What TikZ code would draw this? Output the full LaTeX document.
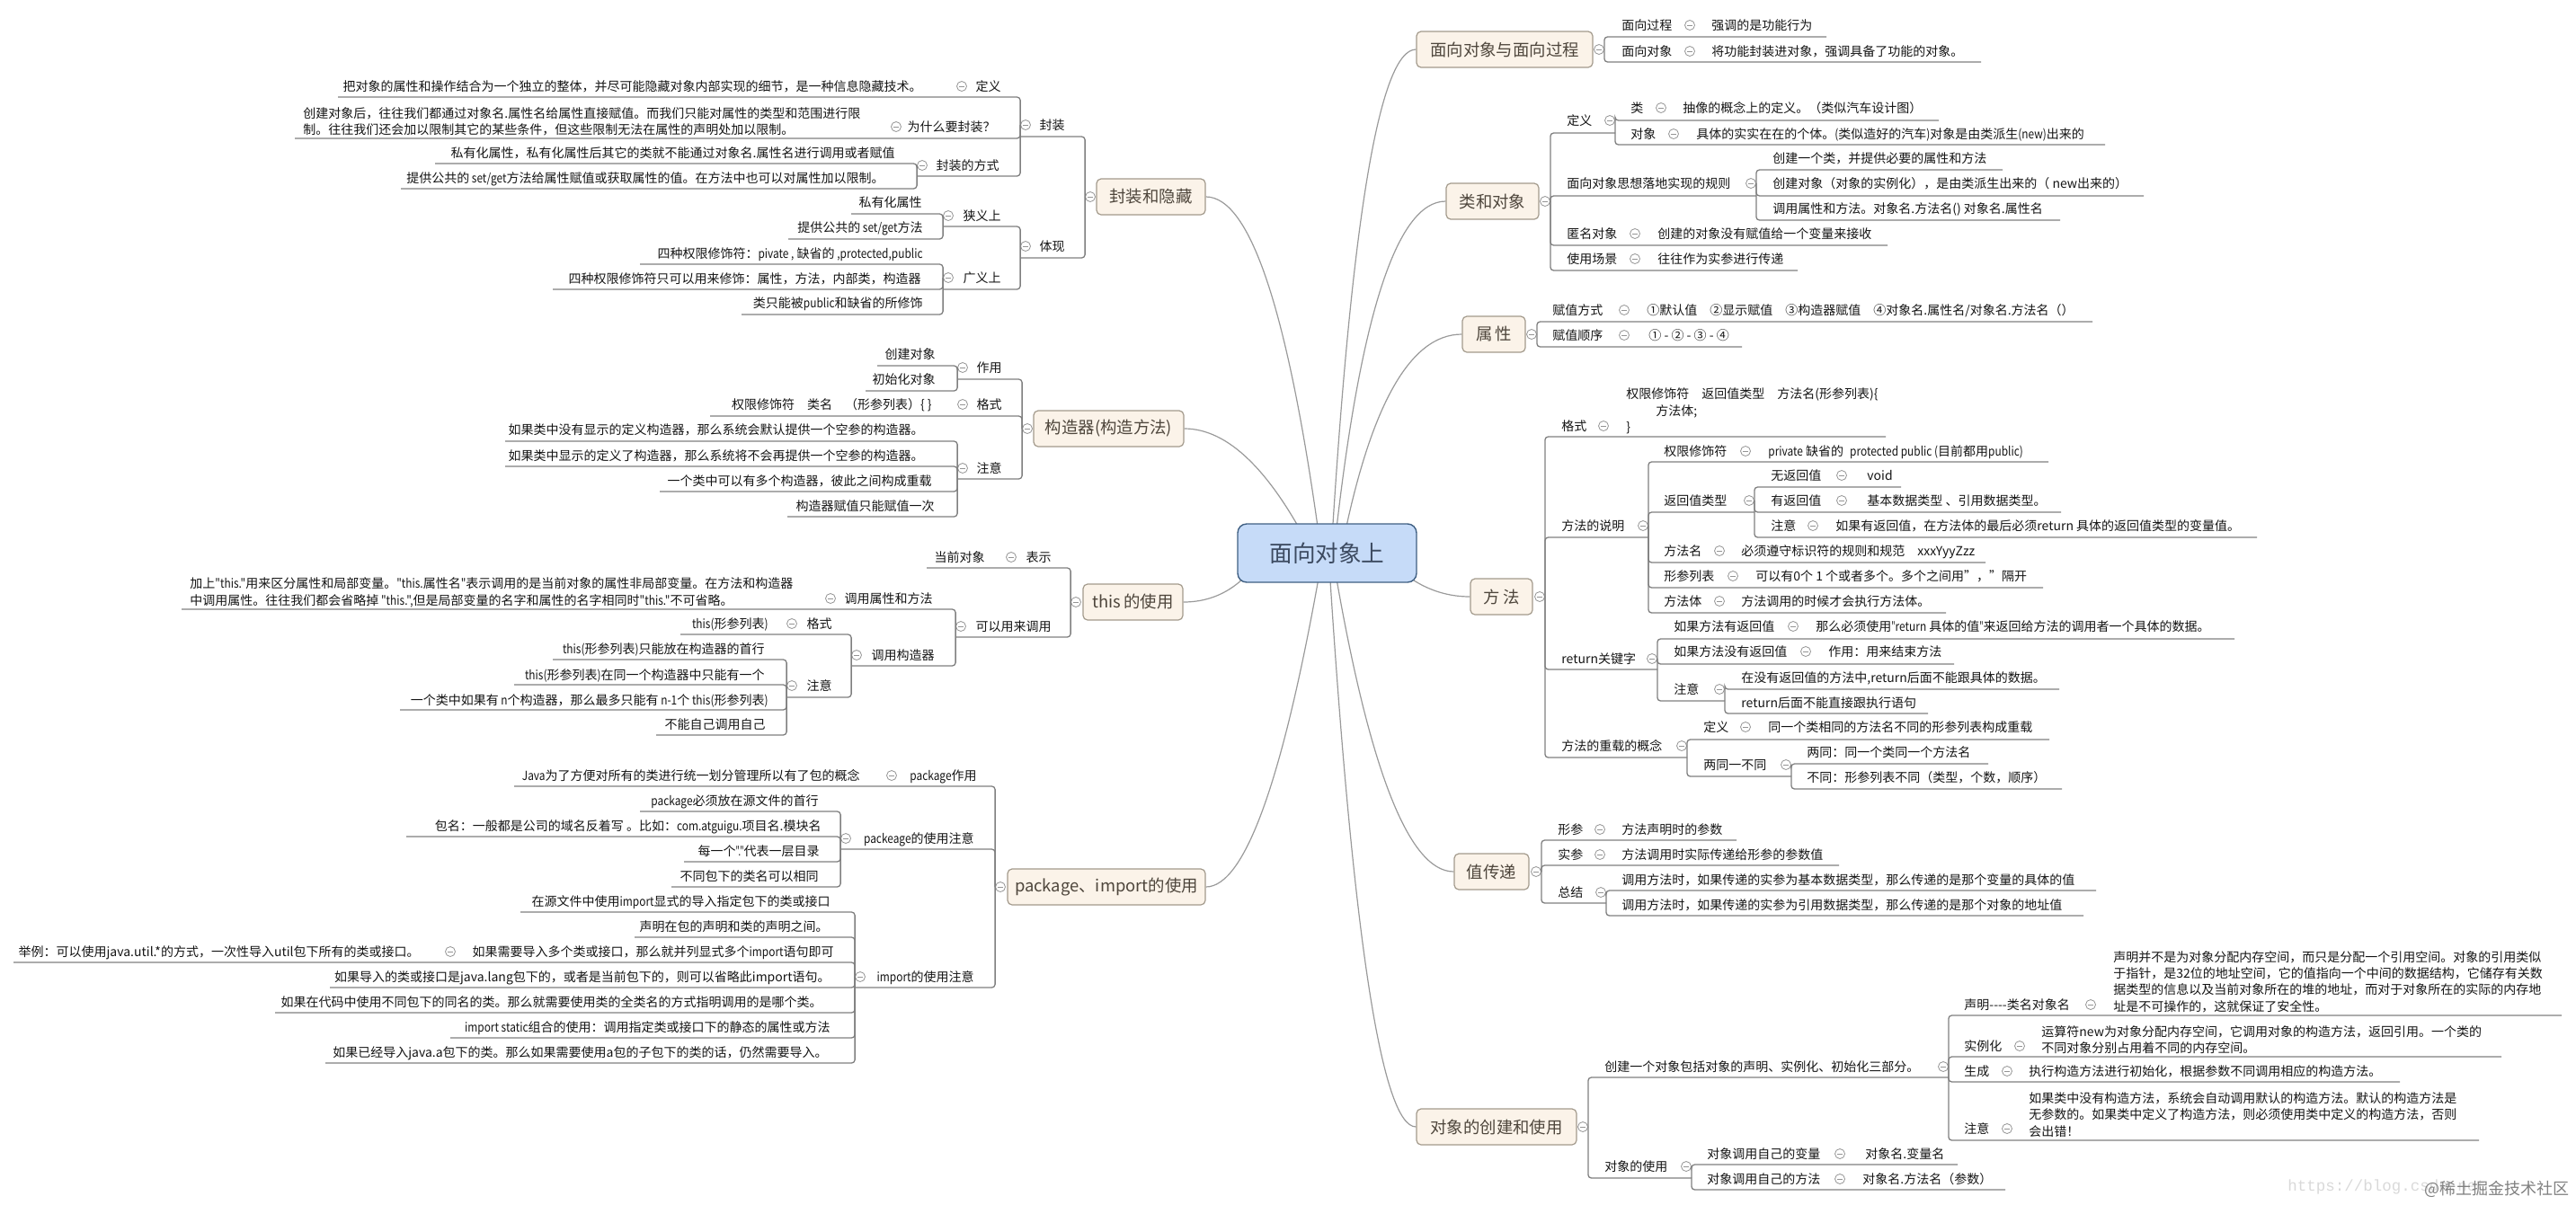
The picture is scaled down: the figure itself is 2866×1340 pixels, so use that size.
\documentclass[tikz,border=0pt]{standalone}
\usepackage{fontspec}
\setmainfont{Noto Sans CJK SC}
\newfontfamily\wmfont{Liberation Mono}
\newfontface\narrowA[FakeStretch=0.85]{Noto Sans CJK SC}
\newfontface\narrowB[FakeStretch=0.65]{Noto Sans CJK SC}
\newcommand\La[1]{{\narrowA #1}}
\newcommand\Lb[1]{{\narrowB #1}}
\usetikzlibrary{calc,backgrounds}
\definecolor{linkc}{HTML}{7F7F7F}
\definecolor{curvec}{HTML}{9A9A9A}
\definecolor{collc}{HTML}{949494}
\definecolor{txtc}{HTML}{141414}
\definecolor{topicfill}{HTML}{FBF3E9}
\definecolor{topicdraw}{HTML}{A39A8C}
\definecolor{topictxt}{HTML}{4E463C}
\definecolor{rootfill}{HTML}{C6DBF8}
\definecolor{rootdraw}{HTML}{3F5F82}
\definecolor{roottxt}{HTML}{3C4A60}
\tikzset{
 lbl/.style={inner sep=0pt,text=txtc,font=\fontsize{7}{9.15}\selectfont,align=left,yshift=-1pt},
 coll/.style={circle,draw=collc,fill=white,line width=.4pt,minimum size=5.5pt,inner sep=0pt,
   path picture={\draw[collc,line width=.4pt]([xshift=-1.4pt]path picture bounding box.center)--([xshift=1.4pt]path picture bounding box.center);}},
 link/.style={draw=linkc,line width=.65pt,rounded corners=1.8pt},
 curvelink/.style={draw=curvec,line width=.6pt},
 topic/.style={draw=topicdraw,fill=topicfill,line width=.6pt,rounded corners=2.5pt,minimum height=20pt,inner sep=0pt,
   text=topictxt,font=\fontsize{9.2}{11}\selectfont},
 rootbox/.style={draw=rootdraw,fill=rootfill,line width=.7pt,rounded corners=5pt,minimum width=99.5pt,minimum height=32.5pt,inner sep=0pt,
   text=roottxt,font=\fontsize{12.8}{15}\selectfont},
 wmurl/.style={inner sep=0pt,text=black!15,font=\wmfont\fontsize{8.75}{10}\selectfont},
 wmsite/.style={inner sep=0pt,text=black!50,font=\fontsize{9}{10}\selectfont},
}
\newcommand\LT[4]{\node[lbl,anchor=east] (#1) at (#2,#3) {\strut #4};}
\newcommand\RT[4]{\node[lbl,anchor=west] (#1) at (#2,#3) {\strut #4};}
\newcommand\ML[4]{\node[lbl,anchor=west] (#1) at (#2,#3) {#4};}
\newcommand\CC[3]{\node[coll] (#1) at (#2,#3) {};}
\newcommand\LU[4]{\coordinate (#1) at (#3,#4);\draw[link] (#2.west) |- (#1);}
\newcommand\RU[4]{\coordinate (#1) at (#3,#4);\draw[link] (#2.east) |- (#1);}
\newcommand\crv[4]{\begin{scope}[on background layer]
 \coordinate (qq) at (#2,0 |- #1);\coordinate (ss) at (#3,#4);
 \draw[curvelink] (ss) .. controls ($(ss)!0.6667!(qq)$) and ($(#1)!0.6667!(qq)$) .. (#1);
 \end{scope}}
\begin{document}
\begin{tikzpicture}[x=0.5pt,y=-0.5pt]
\useasboundingbox (0,0) rectangle (2866,1340);
\node[rootbox] (root) at (1476.5,615.5) {面向对象上};
% topics
\node[topic,minimum width=60.5pt] (g1) at (1280.5,219) {封装和隐藏};
\node[topic,minimum width=83.5pt] (g2) at (1233.5,477) {构造器(构造方法)};
\node[topic,minimum width=55.5pt] (g3) at (1260.5,670) {this\,的使用};
\node[topic,minimum width=110pt] (g4) at (1231,987) {package、import的使用};
\node[topic,minimum width=98pt] (r1) at (1674,55) {面向对象与面向过程};
\node[topic,minimum width=51.5pt] (r2) at (1660.5,224) {类和对象};
\node[topic,minimum width=35pt] (r3) at (1662,372) {属\,性};
\node[topic,minimum width=34.5pt] (r4) at (1670.5,664) {方\,法};
\node[topic,minimum width=41.5pt] (r5) at (1659.5,970) {值传递};
\node[topic,minimum width=89pt] (r6) at (1665,1254) {对象的创建和使用};
% curves
\crv{g1.east}{1417}{1470}{615}
\crv{g2.east}{1390}{1460}{615}
\crv{g3.east}{1355}{1383}{644}
\crv{g4.east}{1408}{1472}{615}
\crv{r1.west}{1515}{1481}{615}
\crv{r2.west}{1526}{1484}{615}
\crv{r3.west}{1539}{1492}{615}
\crv{r4.west}{1600}{1570}{644}
\crv{r5.west}{1541}{1482}{615}
\crv{r6.west}{1518}{1478}{615}
% ===== g1
\CC{g1c}{1213}{219}
\LU{a}{g1c}{1135}{152}\CC{ac}{1141}{139}\LT{at}{1185}{139}{封装}
\LU{aa}{ac}{376}{108}\CC{aac}{1070}{96}\LT{aat}{1114}{96}{定义}
\LT{aal}{1026}{96}{把对象的属性和操作结合为一个独立的整体，并尽可能隐藏对象内部实现的细节，是一种信息隐藏技术。}
\LU{ab}{ac}{328}{154}\CC{abc}{997}{141}\LT{abt}{1108}{141}{为什么要封装？}
\ML{abl}{337}{133}{创建对象后，往往我们都通过对象名.属性名给属性直接赋值。而我们只能对属性的类型和范围进行限\\制。往往我们还会加以限制其它的某些条件，但这些限制无法在属性的声明处加以限制。}
\LU{ad}{ac}{1020}{196}\CC{adc}{1026}{184}\LT{adt}{1112}{184}{封装的方式}
\LU{ada}{adc}{484}{182}\LT{adat}{996}{170}{私有化属性，私有化属性后其它的类就不能通过对象名.属性名进行调用或者赋值}
\LU{adb}{adc}{446}{210}\LT{adbt}{984}{198}{提供公共的\La{ set/get}方法给属性赋值或获取属性的值。在方法中也可以对属性加以限制。}
\LU{b}{g1c}{1135}{287}\CC{bc}{1141}{274}\LT{bt}{1185}{274}{体现}
\LU{ba}{bc}{1049}{252}\CC{bac}{1055}{240}\LT{bat}{1114}{240}{狭义上}
\LU{baa}{bac}{947}{238}\LT{baat}{1026}{225}{私有化属性}
\LU{bab}{bac}{877}{266}\LT{babt}{1027}{253}{提供公共的\La{ set/get}方法}
\LU{bb}{bc}{1049}{322}\CC{bbc}{1055}{309}\LT{bbt}{1114}{309}{广义上}
\LU{bba}{bbc}{712}{294}\LT{bbat}{1027}{282}{四种权限修饰符：\La{pivate ,} 缺省的\La{ ,protected,public}}
\LU{bbb}{bbc}{615}{322}\LT{bbbt}{1025}{310}{四种权限修饰符只可以用来修饰：属性，方法，内部类，构造器}
\LU{bbd}{bbc}{825}{350}\LT{bbdt}{1027}{337}{类只能被\La{public}和缺省的所修饰}
% ===== g2
\CC{g2c}{1143}{477}
\LU{c}{g2c}{1065}{422}\CC{cc}{1071}{409}\LT{ct}{1115}{409}{作用}
\LU{ca}{cc}{976}{407}\LT{cat}{1041}{394}{创建对象}
\LU{cb}{cc}{963}{435}\LT{cbt}{1041}{422}{初始化对象}
\LU{d}{g2c}{790}{463}\CC{dc}{1071}{450}\LT{dt}{1115}{450}{格式}
\LT{dl}{1037}{450}{权限修饰符\quad 类名\quad （形参列表）\{ \}}
\LU{e}{g2c}{1065}{533}\CC{ec}{1071}{521}\LT{et}{1115}{521}{注意}
\LU{ea}{ec}{562}{491}\LT{eat}{1028}{478}{如果类中没有显示的定义构造器，那么系统会默认提供一个空参的构造器。}
\LU{eb}{ec}{562}{519}\LT{ebt}{1028}{507}{如果类中显示的定义了构造器，那么系统将不会再提供一个空参的构造器。}
\LU{ed}{ec}{734}{547}\LT{edt}{1037}{535}{一个类中可以有多个构造器，彼此之间构成重载}
\LU{ef}{ec}{876}{575}\LT{eft}{1040}{563}{构造器赋值只能赋值一次}
% ===== g3
\CC{g3c}{1197}{670}
\LU{f}{g3c}{1031}{632}\CC{fc}{1125}{620}\LT{ft}{1170}{620}{表示}\LT{fl}{1096}{620}{当前对象}
\LU{h}{g3c}{1063}{709}\CC{hc}{1069}{697}\LT{ht}{1170}{697}{可以用来调用}
\LU{ha}{hc}{202}{678}\CC{hac}{924}{666}\LT{hat}{1038}{666}{调用属性和方法}
\ML{hal}{211}{657.5}{加上\La{"this."}用来区分属性和局部变量。\La{"this.}属性名\La{"}表示调用的是当前对象的属性非局部变量。在方法和构造器\\中调用属性。往往我们都会省略掉\La{ "this.",}但是局部变量的名字和属性的名字相同时\La{"this."}不可省略。}
\LU{hb}{hc}{947}{741}\CC{hbc}{953}{729}\LT{hbt}{1040}{729}{调用构造器}
\LU{hba}{hbc}{757}{706}\CC{hbac}{881}{694}\LT{hbat}{926}{694}{格式}\LT{hbal}{855}{694}{\La{this(}形参列表\La{)}}
\LU{hbb}{hbc}{875}{776}\CC{hbbc}{881}{763}\LT{hbbt}{926}{763}{注意}
\LU{hbba}{hbbc}{615}{734}\LT{hbbat}{851}{722}{\La{this(}形参列表\La{)}只能放在构造器的首行}
\LU{hbbb}{hbbc}{572}{762}\LT{hbbbt}{851}{751}{\La{this(}形参列表\La{)}在同一个构造器中只能有一个}
\LU{hbbd}{hbbc}{445}{790}\LT{hbbdt}{855}{779}{一个类中如果有\La{ n}个构造器，那么最多只能有\La{ n-1}个\La{ this(}形参列表\La{)}}
\LU{hbbe}{hbbc}{730}{818}\LT{hbbet}{852}{806}{不能自己调用自己}
% ===== g4
\CC{g4c}{1113}{987}
\LU{k}{g4c}{572}{875}\CC{kc}{992}{863}\LT{kt}{1087}{863}{\La{package}作用}\LT{kl}{957}{863}{\La{Java}为了方便对所有的类进行统一划分管理所以有了包的概念}
\LU{m}{g4c}{935}{945}\CC{mc}{941}{933}\LT{mt}{1084}{933}{\La{packeage}的使用注意}
\LU{ma}{mc}{712}{903}\LT{mat}{911}{891}{\La{package}必须放在源文件的首行}
\LU{mb}{mc}{452}{931}\LT{mbt}{914}{919}{包名：一般都是公司的域名反着写 。比如：\La{com.atguigu.}项目名.模块名}
\LU{md}{mc}{761}{959}\LT{mdt}{912}{947}{每一个\Lb{"."}代表一层目录}
\LU{me}{mc}{747}{987}\LT{met}{911}{975}{不同包下的类名可以相同}
\LU{n}{g4c}{951}{1099}\CC{nc}{957}{1087}\LT{nt}{1084}{1087}{\La{import}的使用注意}
\LU{na}{nc}{579}{1015}\LT{nat}{924}{1003}{在源文件中使用\La{import}显式的导入指定包下的类或接口}
\LU{nb}{nc}{706}{1043}\LT{nbt}{922}{1031}{声明在包的声明和类的声明之间。}
\LU{nd}{nc}{15}{1071}\LT{ndt}{928}{1059}{如果需要导入多个类或接口，那么就并列显式多个\La{import}语句即可}\CC{ndc}{501}{1059}\LT{ndl}{467}{1059}{举例：可以使用java.util.*的方式，一次性导入util包下所有的类或接口。}
\LU{ne}{nc}{367}{1099}\LT{net}{924}{1087}{如果导入的类或接口是java.lang包下的，或者是当前包下的，则可以省略此import语句。}
\LU{nf}{nc}{306}{1127}\LT{nft}{915}{1115}{如果在代码中使用不同包下的同名的类。那么就需要使用类的全类名的方式指明调用的是哪个类。}
\LU{ng}{nc}{501}{1155}\LT{ngt}{924}{1143}{\La{import static}组合的使用：调用指定类或接口下的静态的属性或方法}
\LU{nh}{nc}{362}{1183}\LT{nht}{921}{1171}{如果已经导入java.a包下的类。那么如果需要使用a包的子包下的类的话，仍然需要导入。}
% ===== r1
\CC{r1c}{1779}{55}
\RU{p}{r1c}{2032}{41}\RT{pt}{1804}{28}{面向过程}\CC{pc}{1880}{28}\RT{pl}{1904}{28}{强调的是功能行为}
\RU{q}{r1c}{2204}{69}\RT{qt}{1804}{57}{面向对象}\CC{qc}{1880}{57}\RT{ql}{1904}{57}{将功能封装进对象，强调具备了功能的对象。}
% ===== r2
\CC{r2c}{1719}{224}
\RU{s}{r2c}{1797}{148}\RT{st}{1743}{134}{定义}\CC{sc}{1791}{134}
\RU{sa}{sc}{2157}{134}\RT{sat}{1814}{120}{类}\CC{sac}{1848}{120}\RT{sal}{1872}{120}{抽像的概念上的定义。（类似汽车设计图）}
\RU{sb}{sc}{2342}{161}\RT{sbt}{1814}{149}{对象}\CC{sbc}{1862}{149}\RT{sbl}{1887}{149}{具体的实实在在的个体。\La{(}类似造好的汽车\La{)}对象是由类派生\La{(new)}出来的}
\RU{u}{r2c}{1954}{218}\RT{ut}{1743}{204}{面向对象思想落地实现的规则}\CC{uc}{1948}{204}
\RU{ua}{uc}{2228}{189}\RT{uat}{1972}{176}{创建一个类，并提供必要的属性和方法}
\RU{ub}{uc}{2385}{218}\RT{ubt}{1972}{204}{创建对象（对象的实例化），是由类派生出来的（ new出来的）}
\RU{ud}{uc}{2292}{245}\RT{udt}{1972}{232}{调用属性和方法。对象名.方法名() 对象名.属性名}
\RU{v}{r2c}{2100}{273}\RT{vt}{1743}{260}{匿名对象}\CC{vc}{1819}{260}\RT{vl}{1844}{260}{创建的对象没有赋值给一个变量来接收}
\RU{w}{r2c}{2000}{301}\RT{wt}{1743}{288}{使用场景}\CC{wc}{1819}{288}\RT{wl}{1844}{288}{往往作为实参进行传递}
% ===== r3
\CC{r3c}{1704}{372}
\RU{ya}{r3c}{2328}{358}\RT{yat}{1727}{345}{赋值方式}\CC{yac}{1807}{345}\RT{yal}{1832}{345}{①默认值\quad ②显示赋值\quad ③构造器赋值\quad ④对象名.属性名/对象名.方法名（）}
\RU{yb}{r3c}{1938}{386}\RT{ybt}{1727}{373}{赋值顺序}\CC{ybc}{1807}{373}\RT{ybl}{1834}{373}{① - ② - ③ - ④}
% ===== r4
\CC{r4c}{1713}{664}
\RU{A}{r4c}{2098}{486}\RT{At}{1737}{474}{格式}\CC{Ac}{1784}{474}
\ML{Al}{1809}{455.5}{权限修饰符\quad 返回值类型\quad 方法名(形参列表)\{\\\hspace*{16.5pt}方法体;\\\}}
\RU{B}{r4c}{1834}{598}\RT{Bt}{1737}{585}{方法的说明}\CC{Bc}{1828}{585}
\RU{Ba}{Bc}{2279}{514}\RT{Bat}{1851}{502}{权限修饰符}\CC{Bac}{1942}{502}\RT{Bal}{1967}{502}{\La{private} 缺省的\enspace\La{protected public (}目前都用\La{public)}}
\RU{Bb}{Bc}{1952}{570}\RT{Bbt}{1851}{557}{返回值类型}\CC{Bbc}{1946}{557}
\RU{Bba}{Bbc}{2115}{542}\RT{Bbat}{1970}{529}{无返回值}\CC{Bbac}{2049}{529}\RT{Bbal}{2077}{529}{void}
\RU{Bbb}{Bbc}{2293}{570}\RT{Bbbt}{1970}{557}{有返回值}\CC{Bbbc}{2049}{557}\RT{Bbbl}{2077}{557}{基本数据类型 、引用数据类型。}
\RU{Bbd}{Bbc}{2511}{598}\RT{Bbdt}{1970}{585}{注意}\CC{Bbdc}{2017}{585}\RT{Bbdl}{2042}{585}{如果有返回值，在方法体的最后必须return 具体的返回值类型的变量值。}
\RU{Bd}{Bc}{2209}{626}\RT{Bdt}{1851}{613}{方法名}\CC{Bdc}{1913}{613}\RT{Bdl}{1937}{613}{必须遵守标识符的规则和规范\quad xxxYyyZzz}
\RU{Be}{Bc}{2273}{654}\RT{Bet}{1851}{641}{形参列表}\CC{Bec}{1928}{641}\RT{Bel}{1953}{641}{可以有0个 1 个或者多个。多个之间用"，"隔开}
\RU{Bf}{Bc}{2165}{682}\RT{Bft}{1851}{669}{方法体}\CC{Bfc}{1913}{669}\RT{Bfl}{1937}{669}{方法调用的时候才会执行方法体。}
\RU{D}{r4c}{1844}{745}\RT{Dt}{1737}{733}{return关键字}\CC{Dc}{1838}{733}
\RU{Da}{Dc}{2486}{711}\RT{Dat}{1862}{697}{如果方法有返回值}\CC{Dac}{1995}{697}\RT{Dal}{2020}{697}{那么必须使用\Lb{"}\La{return} 具体的值\Lb{"}来返回给方法的调用者一个具体的数据。}
\RU{Db}{Dc}{2174}{739}\RT{Dbt}{1862}{725}{如果方法没有返回值}\CC{Dbc}{2009}{725}\RT{Dbl}{2034}{725}{作用：用来结束方法}
\RU{Dd}{Dc}{1919}{780}\RT{Ddt}{1862}{767}{注意}\CC{Ddc}{1913}{767}
\RU{Dda}{Ddc}{2291}{767}\RT{Ddat}{1937}{754}{在没有返回值的方法中,return后面不能跟具体的数据。}
\RU{Ddb}{Ddc}{2145}{794}\RT{Ddbt}{1937}{782}{return后面不能直接跟执行语句}
\RU{E}{r4c}{1877}{843}\RT{Et}{1737}{830}{方法的重载的概念}\CC{Ec}{1871}{830}
\RU{Ea}{Ec}{2280}{823}\RT{Eat}{1895}{809}{定义}\CC{Eac}{1942}{809}\RT{Eal}{1967}{809}{同一个类相同的方法名不同的形参列表构成重载}
\RU{Eb}{Ec}{1993}{864}\RT{Ebt}{1895}{851}{两同一不同}\CC{Ebc}{1987}{851}
\RU{Eba}{Ebc}{2212}{850}\RT{Ebat}{2010}{837}{两同：同一个类同一个方法名}
\RU{Ebb}{Ebc}{2294}{878}\RT{Ebbt}{2010}{865}{不同：形参列表不同（类型，个数，顺序）}
% ===== r5
\CC{r5c}{1709}{970}
\RU{F}{r5c}{1932}{935}\RT{Ft}{1733}{923}{形参}\CC{Fc}{1780}{923}\RT{Fl}{1804}{923}{方法声明时的参数}
\RU{G}{r5c}{2046}{963}\RT{Gt}{1733}{951}{实参}\CC{Gc}{1780}{951}\RT{Gl}{1804}{951}{方法调用时实际传递给形参的参数值}
\RU{H}{r5c}{1787}{1005}\RT{Ht}{1733}{993}{总结}\CC{Hc}{1781}{993}
\RU{Ha}{Hc}{2332}{991}\RT{Hat}{1804}{979}{调用方法时，如果传递的实参为基本数据类型，那么传递的是那个变量的具体的值}
\RU{Hb}{Hc}{2318}{1019}\RT{Hbt}{1804}{1007}{调用方法时，如果传递的实参为引用数据类型，那么传递的是那个对象的地址值}
% ===== r6
\CC{r6c}{1761}{1254}
\RU{J}{r6c}{2168}{1199}\RT{Jt}{1785}{1187}{创建一个对象包括对象的声明、实例化、初始化三部分。}\CC{Jc}{2162}{1187}
\RU{Ja}{Jc}{2850}{1130}\RT{Jat}{2185}{1118}{声明{-}{-}{-}{-}类名对象名}\CC{Jac}{2326}{1118}
\ML{Jal}{2351}{1090.5}{声明并不是为对象分配内存空间，而只是分配一个引用空间。对象的引用类似\\于指针，是32位的地址空间，它的值指向一个中间的数据结构，它储存有关数\\据类型的信息以及当前对象所在的堆的地址，而对于对象所在的实际的内存地\\址是不可操作的，这就保证了安全性。}
\RU{Jb}{Jc}{2783}{1176}\RT{Jbt}{2185}{1164}{实例化}\CC{Jbc}{2247}{1164}
\ML{Jbl}{2271}{1155}{运算符new为对象分配内存空间，它调用对象的构造方法，返回引用。一个类的\\不同对象分别占用着不同的内存空间。}
\RU{Jd}{Jc}{2670}{1204}\RT{Jdt}{2185}{1192}{生成}\CC{Jdc}{2233}{1192}\RT{Jdl}{2257}{1192}{执行构造方法进行初始化，根据参数不同调用相应的构造方法。}
\RU{Je}{Jc}{2758}{1269}\RT{Jet}{2185}{1256}{注意}\CC{Jec}{2233}{1256}
\ML{Jel}{2257}{1238.5}{如果类中没有构造方法，系统会自动调用默认的构造方法。默认的构造方法是\\无参数的。如果类中定义了构造方法，则必须使用类中定义的构造方法，否则\\会出错！}
\RU{K}{r6c}{1882}{1311}\RT{Kt}{1785}{1298}{对象的使用}\CC{Kc}{1876}{1298}
\RU{Ka}{Kc}{2178}{1296}\RT{Kat}{1899}{1284}{对象调用自己的变量}\CC{Kac}{2047}{1284}\RT{Kal}{2075}{1284}{对象名.变量名}
\RU{Kb}{Kc}{2231}{1324}\RT{Kbt}{1899}{1312}{对象调用自己的方法}\CC{Kbc}{2047}{1312}\RT{Kbl}{2072}{1312}{对象名.方法名（参数）}
% watermark
\node[wmurl,anchor=west] (wm1) at (2545,1321) {https://blog.csdn.net};
\node[wmsite,anchor=east] (wm2) at (2859,1323) {@稀土掘金技术社区};
\end{tikzpicture}
\end{document}
